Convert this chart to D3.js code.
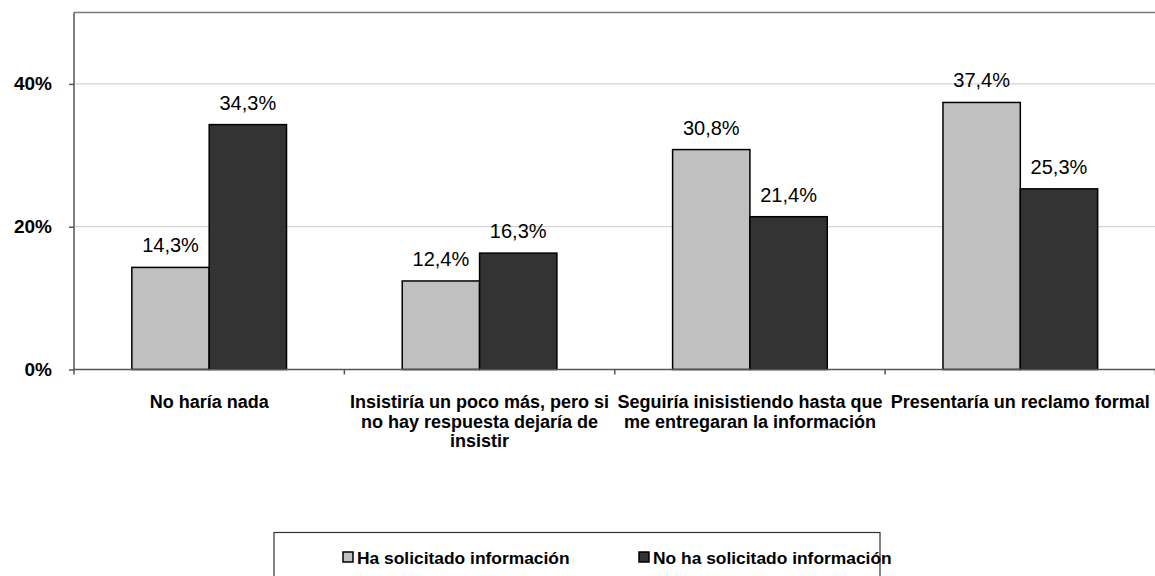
<!DOCTYPE html>
<html>
<head>
<meta charset="utf-8">
<script src="https://cdn.jsdelivr.net/npm/d3@7"></script>
<style>
  html, body { margin: 0; padding: 0; background: #fff; }
  svg { display: block; font-family: "Liberation Sans", Arial, sans-serif; }
</style>
</head>
<body>
<svg id="chart" width="1155" height="576"></svg>
<script>
// Survey responses: what people would do if their information request went unanswered
const categories = [
  "No haría nada",
  "Insistiría un poco más, pero si\nno hay respuesta dejaría de\ninsistir",
  "Seguiría inisistiendo hasta que\nme entregaran la información",
  "Presentaría un reclamo formal"
];
const seriesNames = ["Ha solicitado información", "No ha solicitado información"];
const requested = [14.3, 12.4, 30.8, 37.4];
const notRequested = [34.3, 16.3, 21.4, 25.3];
const yTicks = [0, 20, 40];
const colors = ["#c0c0c0", "#333333"];

const svg = d3.select("#chart");
const margin = { left: 74 };
const plotRight = 1155.5;

const y = d3.scaleLinear().domain([0, 50]).range([369.5, 12.5]);
const x0 = d3.scaleBand().domain(categories).range([margin.left, plotRight]).padding(0);
const x1 = d3.scaleBand().domain(seriesNames).range([0, x0.bandwidth()])
  .paddingInner(0).paddingOuter(0.748);

const values = [requested, notRequested];
const fmt = v => d3.format(".1f")(v).replace(".", ",") + "%";

// Gridlines
svg.append("g").selectAll("line").data([20, 40]).join("line")
  .attr("x1", margin.left).attr("x2", plotRight)
  .attr("y1", d => y(d)).attr("y2", d => y(d))
  .attr("stroke", "#c8c8c8").attr("stroke-width", 1);

// Top border of the plot area
svg.append("line")
  .attr("x1", margin.left).attr("x2", plotRight)
  .attr("y1", y(50)).attr("y2", y(50))
  .attr("stroke", "#7a7a7a").attr("stroke-width", 1.5);

// Bars with value labels
categories.forEach((cat, i) => {
  seriesNames.forEach((s, j) => {
    const v = values[j][i];
    const bx = x0(cat) + x1(s);
    svg.append("rect")
      .attr("x", bx).attr("y", y(v))
      .attr("width", x1.bandwidth()).attr("height", y(0) - y(v))
      .attr("fill", colors[j]).attr("stroke", "#000").attr("stroke-width", 1.5);
    svg.append("text")
      .attr("x", bx + x1.bandwidth() / 2).attr("y", y(v) - 15)
      .attr("text-anchor", "middle").attr("font-size", 20).attr("fill", "#000")
      .text(fmt(v));
  });
});

// Y axis
const yAxis = d3.axisLeft(y).tickValues(yTicks).tickSize(5).tickPadding(17)
  .tickFormat(d => d + "%");
const gy = svg.append("g").attr("transform", `translate(${margin.left},0)`).call(yAxis);
gy.select(".domain").attr("stroke", "#555").attr("stroke-width", 1.5)
  .attr("d", `M0,${y(0)}V${y(50)}`);
gy.selectAll(".tick line").attr("stroke", "#555").attr("stroke-width", 1.5);
gy.selectAll(".tick text").attr("font-size", 19).attr("font-weight", "bold")
  .attr("fill", "#000").attr("font-family", "Liberation Sans, Arial, sans-serif");

// X axis baseline and category separators
const gx = svg.append("g");
gx.append("line").attr("x1", margin.left).attr("x2", plotRight)
  .attr("y1", y(0)).attr("y2", y(0)).attr("stroke", "#555").attr("stroke-width", 1.5);
const bounds = categories.map(c => x0(c)).concat([plotRight]);
gx.selectAll("line.sep").data(bounds).join("line").attr("class", "sep")
  .attr("x1", d => d).attr("x2", d => d)
  .attr("y1", y(0)).attr("y2", y(0) + 5)
  .attr("stroke", "#555").attr("stroke-width", 1.5);

// Category labels
categories.forEach(cat => {
  const cx = x0(cat) + x0.bandwidth() / 2;
  const t = svg.append("text")
    .attr("x", cx).attr("y", 408)
    .attr("text-anchor", "middle").attr("font-size", 18).attr("font-weight", "bold")
    .attr("fill", "#000");
  cat.split("\n").forEach((line, k) => {
    t.append("tspan").attr("x", cx).attr("dy", k === 0 ? 0 : 19.5).text(line);
  });
});

// Legend
const lg = svg.append("g");
lg.append("rect").attr("x", 274).attr("y", 532.5).attr("width", 606).attr("height", 60)
  .attr("fill", "#fff").attr("stroke", "#333").attr("stroke-width", 1.2);
const legendX = [343, 639];
seriesNames.forEach((s, j) => {
  lg.append("rect").attr("x", legendX[j]).attr("y", 552).attr("width", 10).attr("height", 10)
    .attr("fill", colors[j]).attr("stroke", "#000").attr("stroke-width", 1.5);
  lg.append("text").attr("x", legendX[j] + 14).attr("y", 563.5)
    .attr("font-size", 17.4).attr("font-weight", "bold").attr("fill", "#000").text(s);
});
</script>
</body>
</html>
